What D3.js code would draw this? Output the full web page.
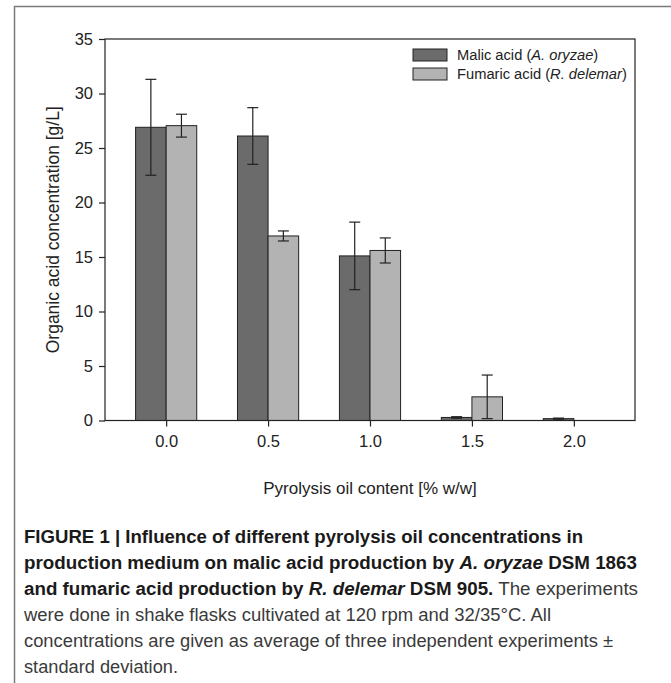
<!DOCTYPE html>
<html><head><meta charset="utf-8">
<script src="https://cdn.jsdelivr.net/npm/d3@7"></script>
<style>
html,body{margin:0;padding:0;background:#fff;}
svg{display:block;}
</style></head>
<body>
<script>
const categories = [0.0, 0.5, 1.0, 1.5, 2.0];
const malic = [26.9, 26.1, 15.1, 0.28, 0.17];
const malicSD = [4.4, 2.6, 3.1, 0.07, 0.05];
const fumaric = [27.05, 16.93, 15.6, 2.17, 0];
const fumaricSD = [1.05, 0.46, 1.15, 2.0, 0];
const yTicks = [0, 5, 10, 15, 20, 25, 30, 35];
const seriesNames = ["Malic acid (", "Fumaric acid ("];
const seriesItalic = ["A. oryzae", "R. delemar"];
const colors = ["#6b6b6b", "#b3b3b3"];

(function () {
const W = 671, H = 683;
const svg = d3.select("body").append("svg").attr("width", W).attr("height", H);

// outer frame (caption box)
svg.append("path").attr("d", `M14.5,${H} L14.5,6.5 L${W},6.5`)
  .attr("fill", "none").attr("stroke", "#7a7a7a").attr("stroke-width", 1.5);

const pL = 105, pR = 635, pT = 39, pB = 420.5;
const x = d3.scaleLinear().domain([-0.3, 2.3]).range([pL, pR]);
const y = d3.scaleLinear().domain([0, 35]).range([pB, pT]);
const bw = x(0.15) - x(0);

const g = svg.append("g");

const data = categories.map((c, i) => ({c, m: malic[i], ms: malicSD[i], f: fumaric[i], fs: fumaricSD[i]}));

// bars
data.forEach(d => {
  [d.m, d.f].forEach((v, k) => {
    if (v <= 0) return;
    g.append("rect")
      .attr("x", x(d.c) + (k === 0 ? -bw : 0))
      .attr("y", y(v))
      .attr("width", bw)
      .attr("height", y(0) - y(v))
      .attr("fill", colors[k])
      .attr("stroke", "#222").attr("stroke-width", 1);
  });
});

// error bars
data.forEach(d => {
  [[d.m, d.ms], [d.f, d.fs]].forEach(([v, sd], k) => {
    if (sd <= 0) return;
    const cx = x(d.c) + (k === 0 ? -bw / 2 : bw / 2);
    const lo = Math.max(0, v - sd), hi = v + sd;
    const eg = g.append("g").attr("stroke", "#222").attr("stroke-width", 1.2);
    eg.append("line").attr("x1", cx).attr("x2", cx).attr("y1", y(lo)).attr("y2", y(hi));
    eg.append("line").attr("x1", cx - 5.5).attr("x2", cx + 5.5).attr("y1", y(hi)).attr("y2", y(hi));
    eg.append("line").attr("x1", cx - 5.5).attr("x2", cx + 5.5).attr("y1", y(lo)).attr("y2", y(lo));
  });
});

// plot frame
svg.append("rect").attr("x", pL).attr("y", pT).attr("width", pR - pL).attr("height", pB - pT)
  .attr("fill", "none").attr("stroke", "#222").attr("stroke-width", 1.2);

const font = "'Liberation Sans', Arial, sans-serif";

// y axis
const ya = svg.append("g").attr("transform", `translate(${pL},0)`)
  .call(d3.axisLeft(y).tickValues(yTicks).tickSize(6).tickPadding(6).tickFormat(d3.format("d")));
ya.select(".domain").remove();
ya.selectAll("line").attr("stroke", "#222").attr("stroke-width", 1.2);
ya.selectAll("text").attr("font-family", font).attr("font-size", 16.5).attr("fill", "#222");

// x axis
const xa = svg.append("g").attr("transform", `translate(0,${pB})`)
  .call(d3.axisBottom(x).tickValues(categories).tickSize(6).tickPadding(9).tickFormat(d3.format(".1f")));
xa.select(".domain").remove();
xa.selectAll("line").attr("stroke", "#222").attr("stroke-width", 1.2);
xa.selectAll("text").attr("font-family", font).attr("font-size", 16.5).attr("fill", "#222");

// axis titles
svg.append("text").attr("transform", `translate(59,${(pT + pB) / 2}) rotate(-90)`)
  .attr("text-anchor", "middle").attr("font-family", font).attr("font-size", 17.5).attr("fill", "#222")
  .text("Organic acid concentration [g/L]");
svg.append("text").attr("x", x(1)).attr("y", 494)
  .attr("text-anchor", "middle").attr("font-family", font).attr("font-size", 17).attr("fill", "#222")
  .text("Pyrolysis oil content [% w/w]");

// legend
seriesNames.forEach((n, i) => {
  const ly = 49 + i * 19;
  svg.append("rect").attr("x", 413).attr("y", ly).attr("width", 34).attr("height", 12)
    .attr("fill", colors[i]).attr("stroke", "#222").attr("stroke-width", 1);
  const t = svg.append("text").attr("x", 457).attr("y", ly + 11)
    .attr("font-family", font).attr("font-size", 14.7).attr("fill", "#222");
  t.append("tspan").text(n);
  t.append("tspan").attr("font-style", "italic").text(seriesItalic[i]);
  t.append("tspan").text(")");
});

// caption
const capFont = "'Liberation Sans Narrow', 'Liberation Sans', Arial, sans-serif";
const capLines = [
  {w: 559, parts: [["FIGURE 1 | Influence of different pyrolysis oil concentrations in", "b"]]},
  {w: 613, parts: [["production medium on malic acid production by ", "b"], ["A. oryzae", "bi"], [" DSM 1863", "b"]]},
  {w: 614, parts: [["and fumaric acid production by ", "b"], ["R. delemar", "bi"], [" DSM 905.", "b"], [" The experiments", "n"]]},
  {w: 527, parts: [["were done in shake flasks cultivated at 120 rpm and 32/35°C. All", "n"]]},
  {w: 589, parts: [["concentrations are given as average of three independent experiments ±", "n"]]},
  {w: 154, parts: [["standard deviation.", "n"]]}
];
capLines.forEach((ln, i) => {
  const t = svg.append("text").attr("x", 24).attr("y", 543 + i * 26)
    .attr("font-family", capFont).attr("font-size", 17.5)
    .attr("textLength", ln.w).attr("lengthAdjust", "spacingAndGlyphs");
  ln.parts.forEach(([s, st]) => {
    const ts = t.append("tspan").text(s);
    if (st.includes("b")) ts.attr("font-weight", "bold").attr("fill", "#1a1a1a");
    else ts.attr("fill", "#3a3a3a");
    if (st.includes("i")) ts.attr("font-style", "italic");
  });
});
})();
</script>
</body></html>
